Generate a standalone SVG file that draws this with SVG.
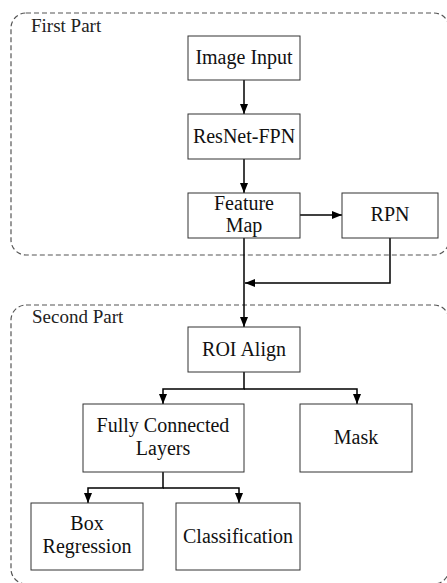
<svg xmlns="http://www.w3.org/2000/svg" width="447" height="583" viewBox="0 0 447 583">
<defs>
<marker id="ah" markerWidth="10" markerHeight="8" refX="10" refY="4" orient="auto" markerUnits="userSpaceOnUse">
<path d="M0,0 L10,4 L0,8 Z" fill="#000"/>
</marker>
<style>
.part{fill:none;stroke:#555;stroke-width:1.2;stroke-dasharray:5 3}
.box{fill:#fff;stroke:#333;stroke-width:1}
.t{font-family:"Liberation Serif","Times New Roman",serif;font-size:20px;fill:#111;text-anchor:middle}
.lbl{font-family:"Liberation Serif","Times New Roman",serif;font-size:19px;fill:#222}
.c{fill:none;stroke:#000;stroke-width:1.5}
</style>
</defs>
<rect width="447" height="583" fill="#fff"/>
<g id="first-part">
<rect class="part" x="11" y="13" width="438" height="242" rx="15"/>
<text class="lbl" x="31" y="32">First Part</text>
</g>
<g id="second-part">
<rect class="part" x="11" y="305" width="438" height="279" rx="15"/>
<text class="lbl" x="32" y="323">Second Part</text>
</g>
<g id="connectors">
<path class="c" d="M244 80 V114" marker-end="url(#ah)"/>
<path class="c" d="M244 159 V193" marker-end="url(#ah)"/>
<path class="c" d="M300 215 H342" marker-end="url(#ah)"/>
<path class="c" d="M244 238 V327" marker-end="url(#ah)"/>
<path class="c" d="M390 238 V283 H245" marker-end="url(#ah)"/>
<path class="c" d="M244 372 V389 H163 V404" marker-end="url(#ah)"/>
<path class="c" d="M244 389 H357 V404" marker-end="url(#ah)"/>
<path class="c" d="M163 472 V488 H88 V503" marker-end="url(#ah)"/>
<path class="c" d="M163 488 H239 V503" marker-end="url(#ah)"/>
</g>
<g id="image-input">
<rect class="box" x="188" y="36" width="112" height="44"/>
<text class="t" x="244" y="64">Image Input</text>
</g>
<g id="resnet-fpn">
<rect class="box" x="188" y="114" width="112" height="45"/>
<text class="t" x="244" y="143">ResNet-FPN</text>
</g>
<g id="feature-map">
<rect class="box" x="188" y="193" width="112" height="45"/>
<text class="t" x="244" y="210">Feature</text>
<text class="t" x="244" y="232">Map</text>
</g>
<g id="rpn">
<rect class="box" x="342" y="193" width="96" height="45"/>
<text class="t" x="390" y="221">RPN</text>
</g>
<g id="roi-align">
<rect class="box" x="188" y="327" width="112" height="45"/>
<text class="t" x="244" y="356">ROI Align</text>
</g>
<g id="fully-connected">
<rect class="box" x="83" y="404" width="161" height="68"/>
<text class="t" x="163" y="432">Fully Connected</text>
<text class="t" x="163" y="455">Layers</text>
</g>
<g id="mask">
<rect class="box" x="300" y="404" width="112" height="68"/>
<text class="t" x="356" y="444">Mask</text>
</g>
<g id="box-regression">
<rect class="box" x="31" y="503" width="112" height="67"/>
<text class="t" x="87" y="530">Box</text>
<text class="t" x="87" y="553">Regression</text>
</g>
<g id="classification">
<rect class="box" x="176" y="503" width="124" height="67"/>
<text class="t" x="238" y="543">Classification</text>
</g>
</svg>
